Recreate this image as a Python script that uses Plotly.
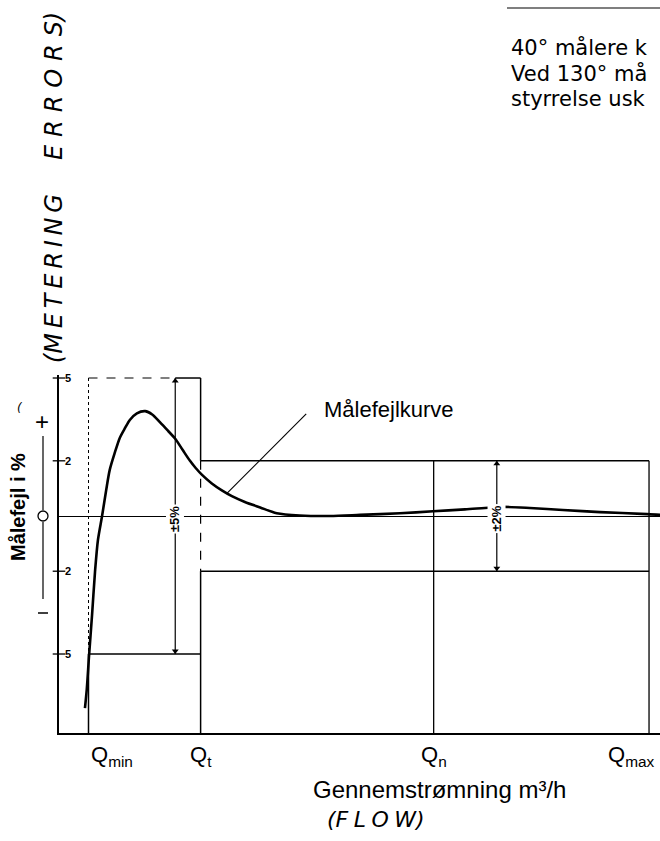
import plotly.graph_objects as go

# --- flow positions of the characteristic points (relative flow units) ---
q_names = ["Q<sub>min</sub>", "Q<sub>t</sub>", "Q<sub>n</sub>", "Q<sub>max</sub>"]
q_pos = [0.5, 2.4, 6.35, 10.0]

# --- permitted error limits (%) ---
lower_zone_limit = 5.0   # between Qmin and Qt
upper_zone_limit = 2.0   # between Qt and Qmax

# --- meter error curve ---
flow = [0.44, 0.47, 0.51, 0.56, 0.61, 0.66, 0.73, 0.80, 0.86, 0.95, 1.03, 1.12,
        1.20, 1.32, 1.46, 1.58, 1.71, 1.85, 1.97, 2.10, 2.22, 2.32, 2.42, 2.59,
        2.76, 2.93, 3.15, 3.41, 3.69, 4.08, 4.59, 5.10, 5.78, 6.34, 6.88, 7.31,
        7.53, 7.98, 8.54, 9.17, 9.97, 10.19]
error = [-6.96, -6.30, -5.04, -3.59, -2.03, -0.87, 0.00, 0.94, 1.67, 2.32, 2.83,
         3.19, 3.48, 3.72, 3.80, 3.68, 3.40, 3.08, 2.80, 2.38, 2.00, 1.73, 1.50,
         1.18, 0.93, 0.72, 0.51, 0.31, 0.10, 0.02, 0.00, 0.04, 0.10, 0.17, 0.24,
         0.31, 0.33, 0.29, 0.22, 0.14, 0.07, 0.04]

# --- y tick marks and labels ---
ytick_vals = [5, 2, -2, -5]
ytick_text = ["5", "2", "2", "5"]

X_RANGE = [0, 10.186]
Y_RANGE = [-7.862, 5.109]

W, H = 660, 841
ML, MR, MT, MB = 59, 0, 375, 108
PW, PH = W - ML - MR, H - MT - MB
XS = (X_RANGE[1] - X_RANGE[0]) / PW   # data units per pixel, x
YS = (Y_RANGE[1] - Y_RANGE[0]) / PH   # data units per pixel, y


def px_x(px):
    """page pixel x -> paper coordinate"""
    return (px - ML) / PW


def px_y(py):
    """page pixel y -> paper coordinate"""
    return (H - MB - py) / PH


Qmin, Qt, Qn, Qmax = q_pos
arrow5_x = 1.97
arrow2_x = 7.42
ybot = Y_RANGE[0]
L5, L2 = lower_zone_limit, upper_zone_limit

fig = go.Figure()

# error curve
fig.add_trace(go.Scatter(x=flow, y=error, mode="lines",
                         line=dict(color="black", width=2.6, shape="spline", smoothing=0.8),
                         hoverinfo="skip", showlegend=False))

# tick crosses on the error axis
fig.add_trace(go.Scatter(x=[0] * len(ytick_vals), y=ytick_vals, mode="markers",
                         marker=dict(symbol="line-ew", size=9,
                                     line=dict(color="black", width=1.3)),
                         cliponaxis=False, hoverinfo="skip", showlegend=False))

# arrowheads of the ± dimension arrows and the sign indicator
sign_x = -16 * XS
off = 3 * YS
head_x = [arrow5_x, arrow5_x, arrow2_x, arrow2_x, sign_x, sign_x]
head_y = [L5 - off, -L5 + off, L2 - off, -L2 + off, 80 * YS + off, -83 * YS - off]
head_sym = ["triangle-up", "triangle-down"] * 3
fig.add_trace(go.Scatter(x=head_x, y=head_y, mode="markers",
                         marker=dict(symbol=head_sym, size=6, color="black",
                                     line=dict(width=0)),
                         cliponaxis=False, hoverinfo="skip", showlegend=False))

shapes = []


def seg(x0, y0, x1, y1, width=1.5, dash="solid"):
    shapes.append(dict(type="line", xref="x", yref="y", x0=x0, y0=y0, x1=x1, y1=y1,
                       line=dict(color="black", width=width, dash=dash)))


# Qmin .. Qt zone (±5 %)
seg(Qmin, L5, arrow5_x, L5, width=1.1, dash="dash")
seg(arrow5_x, L5, Qt, L5)
seg(Qmin, -L5, Qt, -L5)
seg(Qmin, L5, Qmin, -L5, width=1.0, dash="dot")
seg(Qmin, -L5, Qmin, ybot)
# Qt boundary
seg(Qt, L5, Qt, L2)
seg(Qt, L2, Qt, -L2, width=1.2, dash="dash")
seg(Qt, -L2, Qt, ybot)
# Qt .. Qmax zone (±2 %)
seg(Qt, L2, Qmax, L2)
seg(Qt, -L2, Qmax, -L2)
seg(Qn, L2, Qn, ybot, width=1.3)
seg(Qmax, L2, Qmax, ybot, width=1.3)
# ± arrows
seg(arrow5_x, L5, arrow5_x, -L5, width=1.2)
seg(arrow2_x, L2, arrow2_x, -L2, width=1.2)
# leader line to the curve label
seg(4.19, 3.70, 2.85, 0.83, width=1.1)

# sign indicator to the left of the axis
sx = px_x(43)
shapes.append(dict(type="line", xref="paper", yref="paper", x0=sx, x1=sx,
                   y0=px_y(436), y1=px_y(510), line=dict(color="black", width=1.2)))
shapes.append(dict(type="line", xref="paper", yref="paper", x0=sx, x1=sx,
                   y0=px_y(522), y1=px_y(599), line=dict(color="black", width=1.2)))
shapes.append(dict(type="circle", xref="paper", yref="paper",
                   x0=px_x(38), x1=px_x(48), y0=px_y(511), y1=px_y(521),
                   line=dict(color="black", width=1.3), fillcolor="white"))
# rule above the text block
shapes.append(dict(type="line", xref="paper", yref="paper", x0=px_x(507), x1=1.0,
                   y0=px_y(8), y1=px_y(8), line=dict(color="black", width=1.2)))
# minus sign below the indicator
shapes.append(dict(type="line", xref="paper", yref="paper", x0=px_x(38), x1=px_x(48),
                   y0=px_y(613), y1=px_y(613), line=dict(color="black", width=1.5)))

annotations = []
FONT = "Liberation Sans, Arial, sans-serif"
HANDFONT = "DejaVu Sans, sans-serif"


def note(text, px, py, size, anchor="center", angle=0, family=FONT, **font_kw):
    annotations.append(dict(x=px_x(px), y=px_y(py), xref="paper", yref="paper",
                            text=text, textangle=angle, showarrow=False,
                            xanchor=anchor, yanchor="middle",
                            font=dict(family=family, size=size, color="black", **font_kw)))


# ± labels on the arrows
for ax_, lab in [(arrow5_x, "±5%"), (arrow2_x, "±2%")]:
    annotations.append(dict(x=ax_, y=-0.1, xref="x", yref="y", text=lab,
                            textangle=-90, showarrow=False, bgcolor="white",
                            xanchor="center", yanchor="middle",
                            font=dict(family=FONT, size=13, color="black", weight="bold"),
                            borderpad=1))

# y tick labels
for v, t in zip(ytick_vals, ytick_text):
    annotations.append(dict(x=px_x(63), y=v, xref="paper", yref="y", text=t,
                            xanchor="left", yanchor="middle", showarrow=False,
                            font=dict(family=FONT, size=11, color="black", weight="bold")))

# x tick labels
q_anchor = ["left", "center", "center", "right"]
q_shift = [0, 0, 0, 8]
for name, pos, anc, sh in zip(q_names, q_pos, q_anchor, q_shift):
    annotations.append(dict(x=pos, y=px_y(756), xref="x", yref="paper", text=name,
                            xanchor=anc, xshift=sh, yanchor="middle", showarrow=False,
                            font=dict(family=FONT, size=22, color="black")))

# curve label
annotations.append(dict(x=4.46, y=3.86, xref="x", yref="y", text="Målefejlkurve",
                        xanchor="left", yanchor="middle", showarrow=False,
                        font=dict(family=FONT, size=22, color="black")))

# axis titles
note("Gennemstrømning m³/h", 439, 789, 24)
note("Målefejl i %", 18, 507, 20, angle=-90, weight="bold")

# sign symbols
note("+", 42, 421, 24)
note("(", 20, 408, 12, family=HANDFONT, style="italic")

# handwritten notes
note("(" + "\u2009".join("METERING"), 54, 279, 24, angle=-90,
     family=HANDFONT, style="italic")
note("\u2004".join("ERRORS") + ")", 54, 86, 24, angle=-90,
     family=HANDFONT, style="italic")
note("(" + "\u2005".join("FLOW") + ")", 376, 819, 22, family=HANDFONT, style="italic")

# text block at the top right
for txt, py in [("40° målere k", 47), ("Ved 130° må", 73), ("styrrelse usk", 99)]:
    note(txt, 509, py, 21, anchor="left", family=HANDFONT)

fig.update_layout(
    width=W, height=H,
    margin=dict(l=ML, r=MR, t=MT, b=MB, pad=0),
    paper_bgcolor="white", plot_bgcolor="white",
    showlegend=False,
    shapes=shapes,
    annotations=annotations,
    xaxis=dict(range=X_RANGE, showgrid=False, zeroline=False, showticklabels=False,
               ticks="", showline=True, linecolor="black", linewidth=1.5,
               fixedrange=True),
    yaxis=dict(range=Y_RANGE, showgrid=False, zeroline=True, zerolinecolor="black",
               zerolinewidth=1.2, showticklabels=False, ticks="", showline=True,
               linecolor="black", linewidth=1.5, fixedrange=True),
)

fig.write_html("out.html")
